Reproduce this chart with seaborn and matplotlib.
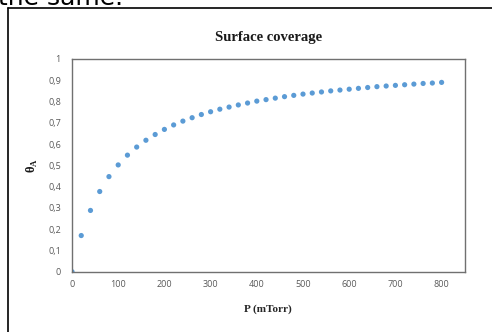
import matplotlib
matplotlib.use("Agg")
import matplotlib.pyplot as plt
from matplotlib.lines import Line2D
import seaborn as sns
import pandas as pd

pressure = [0, 20, 40, 60, 80, 100, 120, 140, 160, 180, 200, 220, 240, 260, 280,
            300, 320, 340, 360, 380, 400, 420, 440, 460, 480, 500, 520, 540, 560,
            580, 600, 620, 640, 660, 680, 700, 720, 740, 760, 780, 800]
coverage = [0.0, 0.170, 0.288, 0.377, 0.447, 0.502, 0.548, 0.586, 0.618, 0.645,
            0.669, 0.690, 0.708, 0.724, 0.739, 0.752, 0.764, 0.774, 0.784, 0.793,
            0.802, 0.809, 0.816, 0.823, 0.829, 0.835, 0.840, 0.845, 0.850, 0.854,
            0.858, 0.862, 0.866, 0.870, 0.873, 0.876, 0.879, 0.882, 0.885, 0.887,
            0.890]
x_ticks = [0, 100, 200, 300, 400, 500, 600, 700, 800]
y_ticks = [0, 0.1, 0.2, 0.3, 0.4, 0.5, 0.6, 0.7, 0.8, 0.9, 1]
y_tick_labels = ["0", "0,1", "0,2", "0,3", "0,4", "0,5", "0,6", "0,7", "0,8", "0,9", "1"]

df = pd.DataFrame({"P": pressure, "theta": coverage})

sns.set_style("white")
plt.rcParams["font.family"] = ["DejaVu Sans"]

fig = plt.figure(figsize=(4.92, 3.32), dpi=100)
ax = fig.add_axes([72 / 492, 1 - 271.7 / 332, (464.7 - 72) / 492, (271.7 - 59) / 332])

sns.scatterplot(data=df, x="P", y="theta", ax=ax, color="#5B9BD5",
                s=14, edgecolor="none", linewidth=0, legend=False)

ax.set_xlim(0, 850)
ax.set_ylim(0, 1)
ax.set_xticks(x_ticks)
ax.set_xticklabels([str(t) for t in x_ticks])
ax.set_yticks(y_ticks)
ax.set_yticklabels(y_tick_labels)
ax.tick_params(axis="both", length=0, labelsize=6.5, labelcolor="#595959")
ax.tick_params(axis="x", pad=6)
ax.tick_params(axis="y", pad=8)
for lab in ax.get_xticklabels() + ax.get_yticklabels():
    lab.set_family("Open Sans")

for sp in ax.spines.values():
    sp.set_visible(True)
    sp.set_color("#707070")
    sp.set_linewidth(1.0)

ax.set_title("Surface coverage", fontfamily="Liberation Serif", fontweight="bold",
             fontsize=10.5, pad=13, color="#1a1a1a")
ax.set_xlabel("P (mTorr)", fontfamily="Liberation Serif", fontweight="bold",
              fontsize=8, labelpad=11, color="#262626")
ax.set_ylabel(r"θ$_\mathregular{A}$", fontfamily="Liberation Serif", fontweight="bold",
              fontsize=9, labelpad=6, color="#1a1a1a")

# outer frame (left and top edges visible)
fig.add_artist(Line2D([7.5 / 492, 7.5 / 492], [-0.1, 1 - 7.5 / 332],
                      transform=fig.transFigure, color="black", linewidth=1.2))
fig.add_artist(Line2D([7.5 / 492, 1.1], [1 - 7.5 / 332, 1 - 7.5 / 332],
                      transform=fig.transFigure, color="black", linewidth=1.2))

# cropped text from surrounding document (cut off at the top, as in the reference)
fig.text(-2 / 492, 1 - 5 / 332, "the same.", fontsize=18, color="black",
         fontfamily="DejaVu Sans", va="baseline", ha="left")

fig.savefig("out.png", dpi=100)
